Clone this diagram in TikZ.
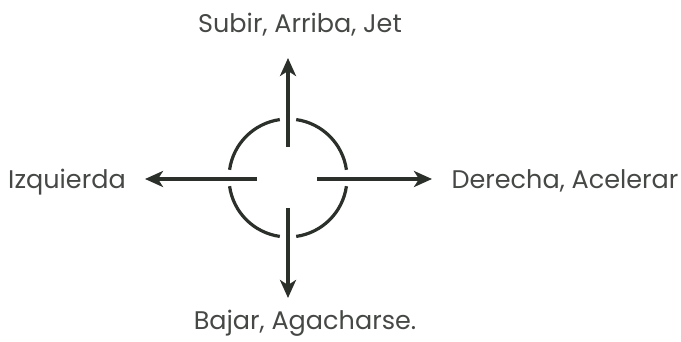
\documentclass[tikz,border=0pt]{standalone}
\usepackage{fontspec}
\setmainfont{Poppins}
\usetikzlibrary{arrows.meta}
\definecolor{ink}{HTML}{2B302B}
\definecolor{label}{HTML}{454845}

\begin{document}
\begin{tikzpicture}[x=1pt,y=-1pt,
  dir/.style={line width=3.2pt,draw=ink,-{Stealth[length=18pt,width=16pt,inset=5pt]}},
  ring/.style={line width=3.2pt,draw=ink},
  lab/.style={anchor=base,text=label,font=\fontsize{25.5}{30}\selectfont,inner sep=0pt}]
\useasboundingbox (0,0) rectangle (681,342);
\coordinate (c) at (288,178);
% inner ends of the arrows
\coordinate (n) at (288,147);
\coordinate (s) at (288,208);
\coordinate (w) at (257,179);
\coordinate (e) at (317,179);
% tips
\coordinate (nt) at (288,58);
\coordinate (st) at (288,298);
\coordinate (wt) at (145,179);
\coordinate (et) at (432,179);
\node[lab] (up) at (300,33) {Subir, Arriba, Jet};
\node[lab] (down) at (305,330) {Bajar, Agacharse.};
\node[lab] (left) at (67,189) {Izquierda};
\node[lab] (right) at (565,189) {Derecha, Acelerar};
% the four arcs of the ring
\foreach \a in {0,90,180,270}
  \draw[ring] (c) ++(\a+8:59) arc (\a+8:\a+82:59);
\draw[dir] (n) -- (nt);
\draw[dir] (s) -- (st);
\draw[dir] (w) -- (wt);
\draw[dir] (e) -- (et);
\end{tikzpicture}
\end{document}
